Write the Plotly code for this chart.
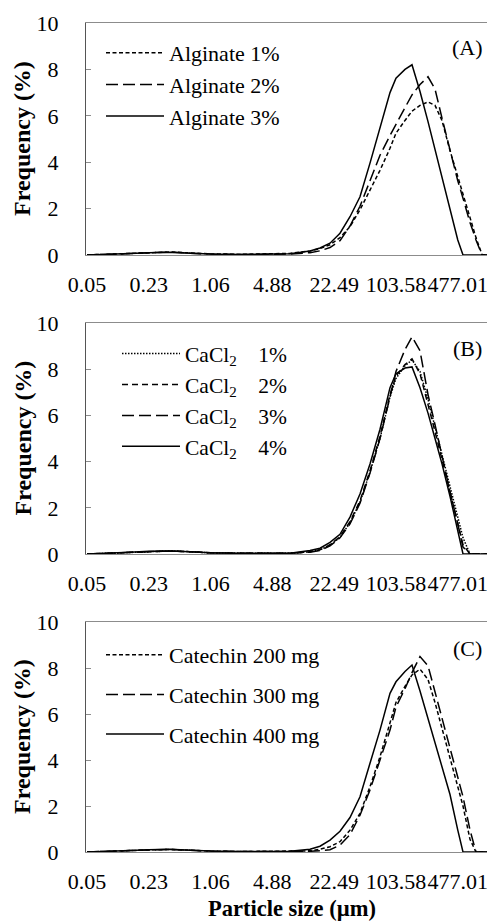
import math
import plotly.graph_objects as go

# Particle size bins (µm) used for sampling the curves
SIZES = [0.05, 0.088, 0.145, 0.23, 0.39, 0.64, 1.06, 2.19, 4.88, 7.55, 12.37, 15.84,
         20.28, 25.97, 33.24, 42.56, 54.51, 69.78, 89.35, 103.58, 129.4, 153.9, 187.6,
         228.6, 271.8, 323.0, 393.7, 477.01, 542.7, 645.1, 748.3, 867.8, 1057.8, 1197]

TICK_VALUES = [0.05, 0.23, 1.06, 4.88, 22.49, 103.58, 477.01]
TICK_LABELS = ["0.05", "0.23", "1.06", "4.88", "22.49", "103.58", "477.01"]

# Panel A – alginate concentration
ALGINATE_1 = [0.0, 0.03, 0.07, 0.11, 0.13, 0.09, 0.05, 0.03, 0.05, 0.07, 0.17, 0.28,
              0.44, 0.75, 1.22, 1.95, 2.80, 3.65, 4.60, 5.25, 5.80, 6.20, 6.45,
              6.60, 6.45, 5.80, 4.50, 3.35, 2.60, 1.60, 0.75, 0.02, 0.0, 0.0]
ALGINATE_2 = [0.0, 0.02, 0.06, 0.10, 0.12, 0.08, 0.04, 0.02, 0.02, 0.04, 0.10, 0.18,
              0.32, 0.62, 1.25, 2.10, 3.20, 4.30, 5.15, 5.65, 6.35, 6.90, 7.35,
              7.68, 7.15, 5.90, 4.50, 3.20, 2.45, 1.40, 0.65, 0.0, 0.0, 0.0]
ALGINATE_3 = [0.0, 0.02, 0.06, 0.10, 0.12, 0.08, 0.04, 0.02, 0.02, 0.05, 0.17, 0.30,
              0.51, 0.94, 1.65, 2.51, 3.96, 5.53, 7.00, 7.62, 8.00, 8.20, 7.05,
              5.75, 4.55, 3.35, 1.95, 0.65, 0.0, 0.0, 0.0, 0.0, 0.0, 0.0]

# Panel B – CaCl2 concentration
CACL2_1 = [0.0, 0.03, 0.07, 0.11, 0.13, 0.10, 0.05, 0.03, 0.02, 0.03, 0.10, 0.18,
           0.38, 0.72, 1.35, 2.25, 3.55, 5.00, 6.80, 7.60, 8.15, 8.40, 7.90,
           6.70, 5.50, 4.30, 2.90, 1.50, 0.70, 0.0, 0.0, 0.0, 0.0, 0.0]
CACL2_2 = [0.0, 0.03, 0.07, 0.11, 0.13, 0.10, 0.05, 0.03, 0.02, 0.03, 0.10, 0.18,
           0.40, 0.75, 1.40, 2.30, 3.60, 5.10, 6.90, 7.70, 8.20, 8.45, 7.80,
           6.50, 5.30, 4.10, 2.70, 1.30, 0.40, 0.0, 0.0, 0.0, 0.0, 0.0]
CACL2_3 = [0.0, 0.03, 0.07, 0.11, 0.13, 0.10, 0.05, 0.03, 0.02, 0.03, 0.08, 0.15,
           0.35, 0.70, 1.30, 2.20, 3.50, 5.00, 6.80, 7.90, 8.85, 9.40, 8.80,
           6.90, 5.60, 4.20, 2.70, 1.30, 0.30, 0.0, 0.0, 0.0, 0.0, 0.0]
CACL2_4 = [0.0, 0.03, 0.08, 0.12, 0.13, 0.10, 0.05, 0.03, 0.02, 0.03, 0.15, 0.25,
           0.50, 0.85, 1.60, 2.60, 3.90, 5.40, 7.20, 7.80, 8.05, 8.10, 7.20,
           6.10, 5.00, 3.90, 2.50, 0.95, 0.0, 0.0, 0.0, 0.0, 0.0, 0.0]

# Panel C – catechin amount
CATECHIN_200 = [0.0, 0.02, 0.06, 0.09, 0.11, 0.08, 0.04, 0.02, 0.02, 0.03, 0.05, 0.12,
                0.23, 0.45, 0.95, 1.68, 2.84, 4.14, 5.60, 6.50, 7.20, 7.70, 7.95,
                7.50, 6.50, 5.40, 4.10, 2.80, 2.00, 0.55, 0.0, 0.0, 0.0, 0.0]
CATECHIN_300 = [0.0, 0.02, 0.06, 0.09, 0.11, 0.08, 0.04, 0.02, 0.02, 0.02, 0.03, 0.06,
                0.10, 0.30, 0.75, 1.60, 2.70, 4.00, 5.30, 6.30, 7.10, 7.80, 8.50,
                8.10, 6.95, 5.80, 4.50, 3.20, 2.40, 0.96, 0.0, 0.0, 0.0, 0.0]
CATECHIN_400 = [0.0, 0.02, 0.06, 0.10, 0.12, 0.08, 0.04, 0.02, 0.02, 0.03, 0.12, 0.25,
                0.52, 0.90, 1.50, 2.40, 3.86, 5.30, 6.90, 7.40, 7.85, 8.13, 7.00,
                5.82, 4.78, 3.66, 2.50, 0.95, 0.0, 0.0, 0.0, 0.0, 0.0, 0.0]

FONT = "Liberation Serif, Times New Roman, serif"
SUB2 = "CaCl<sub>2</sub>\u00a0\u00a0\u00a0\u00a0"

panels = [
    ("", "legend", [("Alginate 1%", ALGINATE_1, "4px,2.5px"),
                    ("Alginate 2%", ALGINATE_2, "12px,5px"),
                    ("Alginate 3%", ALGINATE_3, "solid")]),
    ("2", "legend2", [(SUB2 + "1%", CACL2_1, "1.5px,1.5px"),
                      (SUB2 + "2%", CACL2_2, "6px,4px"),
                      (SUB2 + "3%", CACL2_3, "12px,5px"),
                      (SUB2 + "4%", CACL2_4, "solid")]),
    ("3", "legend3", [("Catechin 200 mg", CATECHIN_200, "4px,2.5px"),
                      ("Catechin 300 mg", CATECHIN_300, "12px,5px"),
                      ("Catechin 400 mg", CATECHIN_400, "solid")]),
]

fig = go.Figure()
for suffix, leg, series in panels:
    for i, (name, vals, dash) in enumerate(series):
        fig.add_trace(go.Scatter(
            x=SIZES, y=vals, mode="lines", name=name,
            line=dict(color="black", width=1.5, dash=dash),
            xaxis="x" + suffix, yaxis="y" + suffix,
            legend=leg, legendgroup=leg + str(i), showlegend=True,
        ))

# page body adds an 8px margin: size the figure to fit the 495x922 window
OFF = 8
W, H = 495 - OFF, 922 - OFF
ML, MR, MT, MB = 86 - OFF, 0, 23 - OFF, 70
PW = W - ML - MR   # 409
PH = H - MT - MB   # 829


def py(ypx):
    """reference-image y pixel -> paper fraction"""
    return (852 - ypx) / PH


def px(xpx):
    """reference-image x pixel -> paper fraction"""
    return (xpx - 86) / PW


domains = [(py(255), py(23)), (py(554), py(323)), (py(852), py(622))]

xr = [math.log10(0.05) - 1 / 93.17, math.log10(0.05) + 408 / 93.17]

layout = dict(
    width=W, height=H,
    margin=dict(l=ML, r=MR, t=MT, b=MB, autoexpand=False),
    paper_bgcolor="white", plot_bgcolor="white",
    font=dict(family=FONT, size=22, color="black"),
    showlegend=True,
)

for k, (suffix, leg, _) in enumerate(panels):
    xa = "xaxis" + suffix
    ya = "yaxis" + suffix
    layout[xa] = dict(
        type="log", range=xr, anchor="y" + suffix,
        tickmode="array", tickvals=TICK_VALUES, ticktext=TICK_LABELS,
        tickangle=0, ticks="", showgrid=False, zeroline=False,
        showline=True, linecolor="#8c8c8c", linewidth=1.3, mirror=True,
        ticklabelstandoff=9,
        tickfont=dict(family=FONT, size=22, color="black"),
    )
    layout[ya] = dict(
        domain=list(domains[k]), anchor="x" + suffix, range=[0, 10],
        tickvals=[0, 2, 4, 6, 8, 10], ticks="inside", ticklen=5,
        tickcolor="#8c8c8c", showgrid=False, zeroline=False,
        showline=True, linecolor="#555555", linewidth=1.3,
        ticklabelstandoff=22,
        tickfont=dict(family=FONT, size=22, color="black"),
    )

leg_common = dict(bgcolor="rgba(0,0,0,0)", borderwidth=0, xanchor="left",
                  yanchor="top", itemwidth=58,
                  font=dict(family=FONT, size=22, color="black"),
                  itemclick=False, itemdoubleclick=False)
layout["legend"] = dict(leg_common, x=px(101), y=py(32), tracegroupgap=0)
layout["legend2"] = dict(leg_common, x=px(117), y=py(333), tracegroupgap=0,
                         font=dict(family=FONT, size=21.5, color="black"))
layout["legend3"] = dict(leg_common, x=px(101), y=py(634), tracegroupgap=8)

annotations = []
for label, yc in [("(A)", 48), ("(B)", 348), ("(C)", 648)]:
    annotations.append(dict(text=label, x=px(467), y=py(yc), xref="paper", yref="paper",
                            showarrow=False, xanchor="center", yanchor="middle",
                            font=dict(family=FONT, size=22, color="black")))
for yc in [139, 438.5, 737]:
    annotations.append(dict(text="<b>Frequency (%)</b>", x=px(22), y=py(yc),
                            xref="paper", yref="paper", showarrow=False,
                            textangle=-90, xanchor="center", yanchor="middle",
                            font=dict(family=FONT, size=24, color="black")))
annotations.append(dict(text="<b>Particle size (µm)</b>", x=px(292), y=py(908),
                        xref="paper", yref="paper", showarrow=False,
                        xanchor="center", yanchor="middle",
                        font=dict(family=FONT, size=22.5, color="black")))
layout["annotations"] = annotations

fig.update_layout(**layout)
fig.write_html("out.html")
